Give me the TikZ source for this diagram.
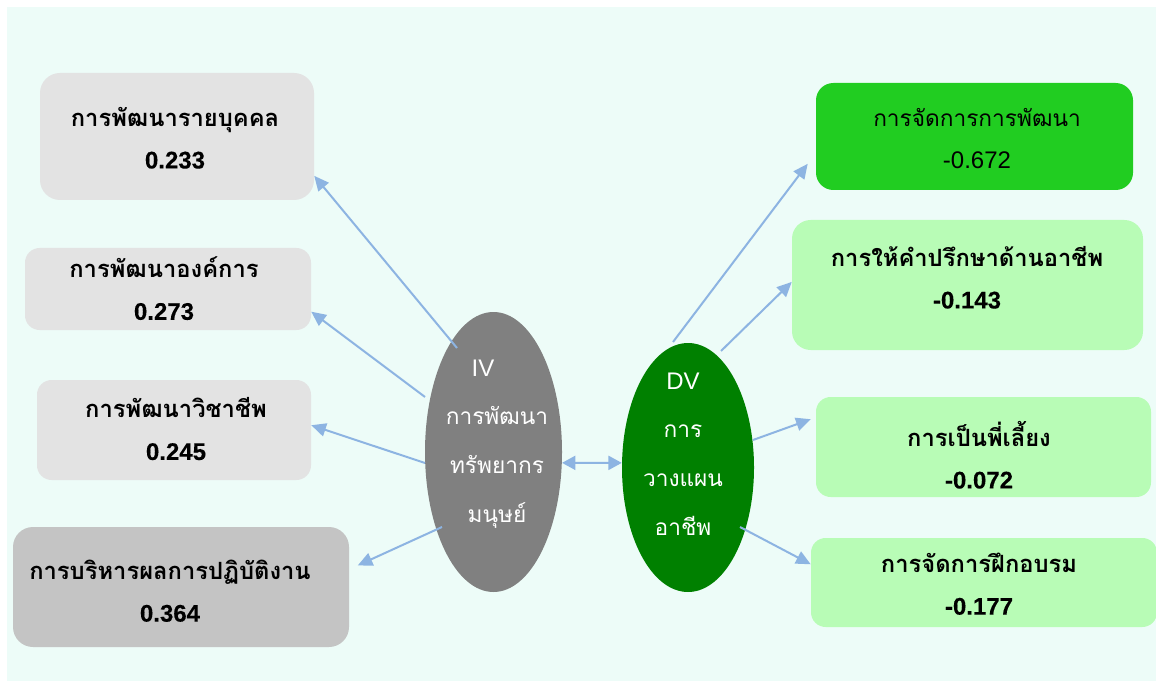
\documentclass[tikz,border=0pt]{standalone}
\usepackage{fontspec}
\setmainfont{Loma}[Script=Thai]
\newfontfamily\numfont{Liberation Sans}
\newfontfamily\numfontb{Liberation Sans}[FakeBold=0.3]
\usetikzlibrary{arrows.meta,shapes.geometric}
\definecolor{bgmint}{HTML}{EDFCF8}
\definecolor{lgray}{HTML}{E3E3E3}
\definecolor{mgray}{HTML}{C4C4C4}
\definecolor{ivgray}{HTML}{808080}
\definecolor{dvgreen}{HTML}{008000}
\definecolor{brgreen}{HTML}{21CD21}
\definecolor{lgreen}{HTML}{B8FCB6}
\definecolor{arrblue}{HTML}{8DB4E2}
\newcommand{\nb}[1]{{\numfontb\fontsize{18}{31.5}\selectfont #1}}
\newcommand{\nr}[1]{{\numfont\fontsize{18}{31.5}\selectfont #1}}
\tikzset{
  box/.style={draw=none, rounded corners=11pt, inner sep=0pt},
  txt/.style={align=center, inner sep=0pt, font=\fontsize{17.8}{31.5}\selectfont\bfseries},
  txtr/.style={align=center, inner sep=0pt, font=\fontsize{17}{31.5}\selectfont},
  etxt/.style={align=center, inner sep=0pt, text=white, font=\fontsize{17}{36.5}\selectfont},
  oval/.style={ellipse, draw=none, inner sep=0pt},
  arr/.style={draw=arrblue, line width=1.5pt, -{Triangle[length=11pt,width=10pt]}},
  dbl/.style={draw=arrblue, line width=1.5pt, {Triangle[length=10pt,width=10.5pt]}-{Triangle[length=10pt,width=10.5pt]}}
}
\begin{document}
\begin{tikzpicture}[x=0.75pt,y=-0.75pt]
\useasboundingbox (0,0) rectangle (1156,684);
\fill[white] (0,0) rectangle (1156,684);
\fill[bgmint] (7,7) rectangle (1156,681);

% left boxes
\node[box, fill=lgray, rounded corners=15pt, minimum width=205.5pt, minimum height=95.25pt] (b1) at (177,136.5) {};
\node[box, fill=lgray, minimum width=214.5pt, minimum height=61.5pt] (b2) at (168,289) {};
\node[box, fill=lgray, minimum width=205.5pt, minimum height=75pt] (b3) at (174,430) {};
\node[box, fill=mgray, rounded corners=15pt, minimum width=252pt, minimum height=90pt] (b4) at (181,587) {};
\node[txt] (t1) at (175,138) {การพัฒนารายบุคคล\\\nb{0.233}};
\node[txt] (t2) at (164,288.5) {การพัฒนาองค์การ\\\nb{0.273}};
\node[txt] (t3) at (176,429) {การพัฒนาวิชาชีพ\\\nb{0.245}};
\node[txt] (t4) at (170,591) {การบริหารผลการปฏิบัติงาน\\\nb{0.364}};

% right boxes
\node[box, fill=brgreen, rounded corners=13pt, minimum width=237.75pt, minimum height=80.25pt] (r1) at (974.5,136.5) {};
\node[box, fill=lgreen, rounded corners=14pt, minimum width=263.25pt, minimum height=97.5pt] (r2) at (967.5,285) {};
\node[box, fill=lgreen, minimum width=251.25pt, minimum height=75pt] (r3) at (983.5,447) {};
\node[box, fill=lgreen, minimum width=259.5pt, minimum height=66.75pt] (r4) at (984,582.5) {};
\node[txtr] (tr1) at (977,139) {การจัดการการพัฒนา\\\nr{-0.672}};
\node[txt] (tr2) at (967,277.5) {การให้คำปรึกษาด้านอาชีพ\\\nb{-0.143}};
\node[txt] (tr3) at (979,455) {การเป็นพี่เลี้ยง\\\nb{-0.072}};
\node[txt] (tr4) at (979,584) {การจัดการฝึกอบรม\\\nb{-0.177}};

% ellipses
\node[oval, fill=ivgray, minimum width=102.75pt, minimum height=210pt] (iv) at (493.5,452) {};
\node[oval, fill=dvgreen, minimum width=99pt, minimum height=186.75pt] (dv) at (688,467.5) {};
\node[etxt] (ivt) at (497,444) {\nr{IV}\hspace*{21pt}\\การพัฒนา\\ทรัพยากร\\มนุษย์};
\node[etxt] (dvt) at (683,454) {\nr{DV}\\การ\\วางแผน\\อาชีพ};

% arrow start points
\coordinate (s1) at (457,348);
\coordinate (s2) at (425,397);
\coordinate (s3) at (425,463);
\coordinate (s4) at (442,527);
\coordinate (s6) at (673,342);
\coordinate (s7) at (721,351);
\coordinate (s8) at (753,440);
\coordinate (s9) at (740,527);

\draw[arr] (s1) -- (b1.-16.4);
\draw[arr] (s2) -- (b2.-9.2);
\draw[arr] (s3) -- (b3.2);
\draw[arr, shorten >=7pt] (s4) -- (b4.6.7);
\draw[arr, shorten >=10pt] (s6) -- (r1.186.1);
\draw[arr] (s7) -- (r2.179.4);
\draw[arr, shorten >=4pt] (s8) -- (r3.170.5);
\draw[arr] (s9) -- (r4.174.4);
\draw[dbl] (iv.-9.1) -- (dv.176.1);
\end{tikzpicture}
\end{document}
